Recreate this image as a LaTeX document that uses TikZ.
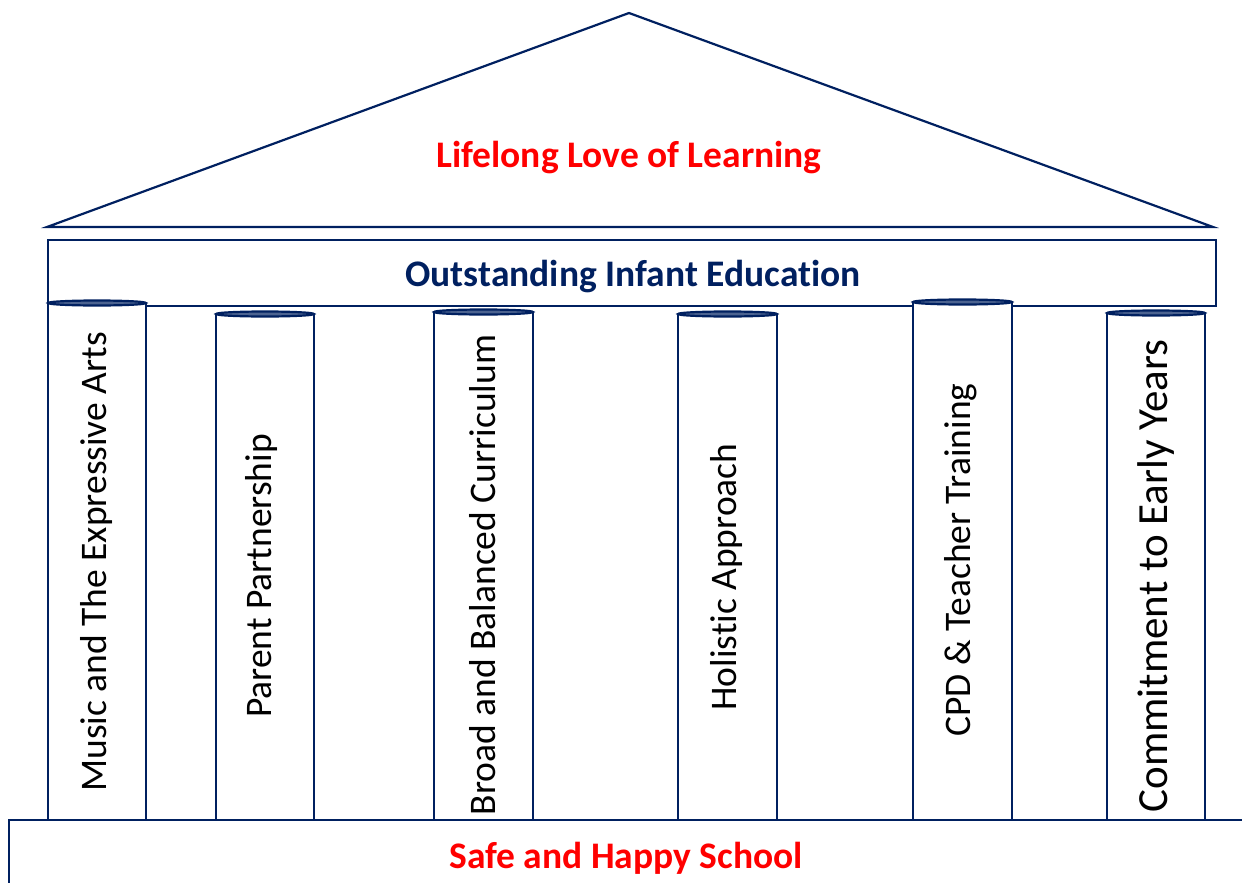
\documentclass[tikz,border=0pt]{standalone}
\usepackage{fontspec}
\setmainfont[Ligatures={NoCommon}]{Carlito}
\definecolor{navy}{HTML}{002060}
\definecolor{redtxt}{HTML}{FF0000}
\begin{document}
\begin{tikzpicture}[x=1pt,y=-1pt,
  outline/.style={draw=navy,line width=2.2pt,line join=miter},
  title/.style={font=\fontsize{37.5}{42}\selectfont\bfseries},
  coltext/.style={font=\fontsize{37.5}{42}\selectfont,rotate=90,text=black,inner sep=0pt}]
\useasboundingbox (0,0) rectangle (1242,883);
% roof
\draw[outline,fill=white] (47,227) -- (629,13) -- (1213,227) -- cycle;
\node[title,text=redtxt] (roof) at (629,158) {Lifelong Love of Learning};
% entablature
\draw[outline,fill=white] (48,240) rectangle (1216,306);
\node[title,text=navy] (ent) at (633,277) {Outstanding Infant Education};
% columns
\foreach \l/\r/\t in {48/146/303, 216/314/314, 434/533/312, 678/777/314, 913/1012/302, 1107/1205/313}{
  \fill[white] (\l,\t) rectangle (\r,820);
  \draw[outline] (\l,\t) -- (\l,820);
  \draw[outline] (\r,\t) -- (\r,820);
  \draw[navy,line width=2.2pt,fill=navy!70] ({(\l+\r)/2},\t) ellipse ({(\r-\l)/2} and 2.5);
}
\node[coltext] (c1) at (97,562) {Music and The Expressive Arts};
\node[coltext] (c2) at (261,576) {Parent Partnership};
\node[coltext] (c3) at (483,575) {Broad and Balanced Curriculum};
\node[coltext] (c4) at (726,577) {Holistic Approach};
\node[coltext] (c5) at (961,560) {CPD \& Teacher Training};
\node[coltext,font=\fontsize{43}{48}\selectfont] (c6) at (1156,576) {Commitment to Early Years};
% base
\draw[outline,fill=white] (9,900) -- (9,820) -- (1260,820);
\node[title,text=redtxt] (base) at (626,858) {Safe and Happy School};
\end{tikzpicture}
\end{document}
